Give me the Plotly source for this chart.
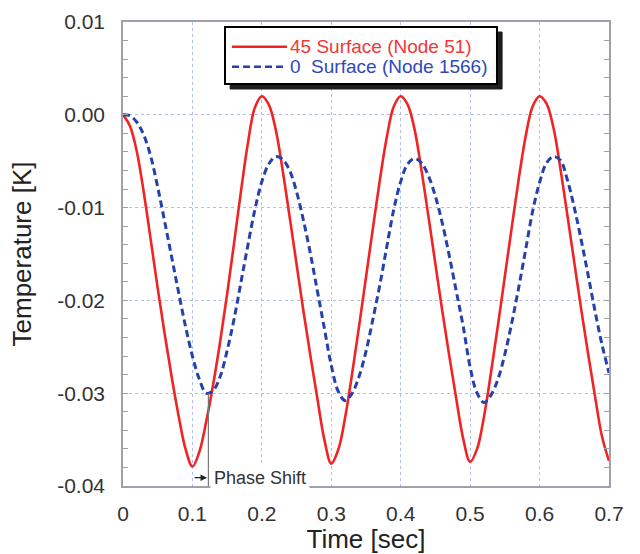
import plotly.graph_objects as go

time_s = [round(i * 0.01, 2) for i in range(71)]

surface45_node51 = [
    0.0000, -0.0012, -0.0040, -0.0084, -0.0135, -0.0187, -0.0236, -0.0282, -0.0324, -0.0360,
    -0.0379, -0.0363, -0.0330, -0.0290, -0.0244, -0.0193, -0.0138, -0.0082, -0.0030, 0.0008,
    0.0020, 0.0011, -0.0016, -0.0060, -0.0110, -0.0161, -0.0212, -0.0260, -0.0306, -0.0350,
    -0.0376, -0.0361, -0.0326, -0.0279, -0.0228, -0.0175, -0.0122, -0.0070, -0.0024, 0.0009,
    0.0020, 0.0011, -0.0016, -0.0060, -0.0110, -0.0161, -0.0212, -0.0260, -0.0306, -0.0349,
    -0.0374, -0.0360, -0.0325, -0.0278, -0.0227, -0.0174, -0.0121, -0.0069, -0.0023, 0.0009,
    0.0020, 0.0012, -0.0014, -0.0058, -0.0108, -0.0159, -0.0210, -0.0258, -0.0304, -0.0347,
    -0.0373,
]

surface0_node1566 = [
    0.0000, -0.0001, -0.0008, -0.0022, -0.0045, -0.0078, -0.0115, -0.0153, -0.0191, -0.0228,
    -0.0260, -0.0285, -0.0300, -0.0297, -0.0282, -0.0254, -0.0220, -0.0180, -0.0140, -0.0102,
    -0.0072, -0.0053, -0.0045, -0.0048, -0.0060, -0.0083, -0.0114, -0.0150, -0.0190, -0.0230,
    -0.0270, -0.0298, -0.0308, -0.0300, -0.0282, -0.0255, -0.0220, -0.0183, -0.0142, -0.0102,
    -0.0072, -0.0053, -0.0047, -0.0052, -0.0066, -0.0088, -0.0117, -0.0152, -0.0190, -0.0228,
    -0.0272, -0.0300, -0.0310, -0.0302, -0.0285, -0.0258, -0.0224, -0.0186, -0.0145, -0.0104,
    -0.0073, -0.0052, -0.0045, -0.0049, -0.0070, -0.0100, -0.0135, -0.0173, -0.0212, -0.0248,
    -0.0278,
]

series_names = ["45 Surface (Node 51)", "0  Surface (Node 1566)"]

x_ticks = [0, 0.1, 0.2, 0.3, 0.4, 0.5, 0.6, 0.7]
x_tick_labels = ["0", "0.1", "0.2", "0.3", "0.4", "0.5", "0.6", "0.7"]
y_ticks = [0.01, 0.0, -0.01, -0.02, -0.03, -0.04]
y_tick_labels = ["0.01", "0.00", "-0.01", "-0.02", "-0.03", "-0.04"]

phase_t_red = 0.101
phase_t_blue = 0.123
phase_y = -0.0391
blue_min_first = -0.0300

RED = "rgb(240,36,36)"
BLUE = "rgb(38,64,172)"
RED_TXT = "rgb(240,55,55)"
BLUE_TXT = "rgb(48,72,182)"
FONT = "Liberation Sans, Arial, Helvetica, sans-serif"
BLUE_DASH = "7px,4px"

fig = go.Figure()
fig.add_trace(go.Scatter(
    x=time_s, y=surface45_node51, mode="lines", name=series_names[0],
    line=dict(color=RED, width=2.6, shape="spline", smoothing=1.0),
))
fig.add_trace(go.Scatter(
    x=time_s, y=surface0_node1566, mode="lines", name=series_names[1],
    line=dict(color=BLUE, width=3, dash=BLUE_DASH, shape="spline", smoothing=1.0),
))

grid_col = "rgb(175,190,235)"
frame_col = "rgb(160,160,172)"

fig.update_xaxes(
    range=[0, 0.7], tickvals=x_ticks, ticktext=x_tick_labels,
    showgrid=True, gridcolor=grid_col, griddash="dot", gridwidth=1,
    showline=True, linecolor=frame_col, linewidth=1.5, mirror=True,
    ticks="", zeroline=False, ticklabelstandoff=8, automargin=False,
    tickfont=dict(family=FONT, size=21, color="#333"),
    title=dict(text="Time [sec]", font=dict(family=FONT, size=26, color="#222"), standoff=6),
)
fig.update_yaxes(
    range=[-0.04, 0.01], tickvals=y_ticks, ticktext=y_tick_labels,
    showgrid=True, gridcolor=grid_col, griddash="dot", gridwidth=1,
    showline=True, linecolor=frame_col, linewidth=1.5, mirror="allticks",
    ticks="inside", ticklen=5, tickcolor=frame_col, zeroline=False,
    minor=dict(dtick=0.002, ticks="inside", ticklen=5, tickcolor=frame_col, showgrid=False),
    ticklabelstandoff=12, automargin=False,
    tickfont=dict(family=FONT, size=21, color="#333"),
    title=dict(text="Temperature [K]", font=dict(family=FONT, size=26, color="#222"), standoff=18),
)

# ---- hand-drawn legend (box with drop shadow) ----
lg_x0, lg_x1, lg_y0, lg_y1 = 0.2099, 0.7695, 0.8664, 0.9892
shadow_dx, shadow_dy = 0.0105, 0.0108
fig.add_shape(type="rect", xref="paper", yref="paper",
              x0=lg_x0 + shadow_dx, x1=lg_x1 + shadow_dx,
              y0=lg_y0 - shadow_dy, y1=lg_y1 - shadow_dy,
              fillcolor="rgb(30,30,30)", line=dict(color="rgb(30,30,30)", width=1),
              layer="above")
fig.add_shape(type="rect", xref="paper", yref="paper",
              x0=lg_x0, x1=lg_x1, y0=lg_y0, y1=lg_y1,
              fillcolor="white", line=dict(color="black", width=2), layer="above")
row_y = [0.9468, 0.9037]
row_styles = [(RED, "solid", 2.6, RED_TXT), (BLUE, BLUE_DASH, 2.6, BLUE_TXT)]
for name, ry, (col, dash, w, tcol) in zip(series_names, row_y, row_styles):
    fig.add_shape(type="line", xref="paper", yref="paper",
                  x0=0.2243, x1=0.3374, y0=ry, y1=ry,
                  line=dict(color=col, width=w, dash=dash), layer="above")
    fig.add_annotation(x=0.3395, y=ry, xref="paper", yref="paper", text=name,
                       showarrow=False, xanchor="left", yanchor="middle",
                       font=dict(family=FONT, size=19, color=tcol))

# ---- phase shift marker ----
fig.add_shape(type="line", xref="x", yref="y",
              x0=phase_t_blue, x1=phase_t_blue, y0=blue_min_first, y1=-0.04,
              line=dict(color="rgb(120,120,120)", width=1.2))
fig.add_annotation(x=phase_t_blue - 0.002, y=phase_y, ax=phase_t_red, ay=phase_y,
                   axref="x", ayref="y", xref="x", yref="y", text="",
                   showarrow=True, arrowhead=2, arrowsize=1, arrowwidth=1.3,
                   arrowcolor="#222")
fig.add_annotation(x=phase_t_blue + 0.003, y=phase_y, xref="x", yref="y",
                   text="Phase Shift", showarrow=False, xanchor="left", yanchor="middle",
                   bgcolor="white", borderpad=3,
                   font=dict(family=FONT, size=18, color="#333"))

fig.update_layout(
    width=640, height=554,
    margin=dict(l=123, r=31, t=22, b=68),
    paper_bgcolor="white", plot_bgcolor="white",
    showlegend=False,
)

fig.write_html("out.html")
